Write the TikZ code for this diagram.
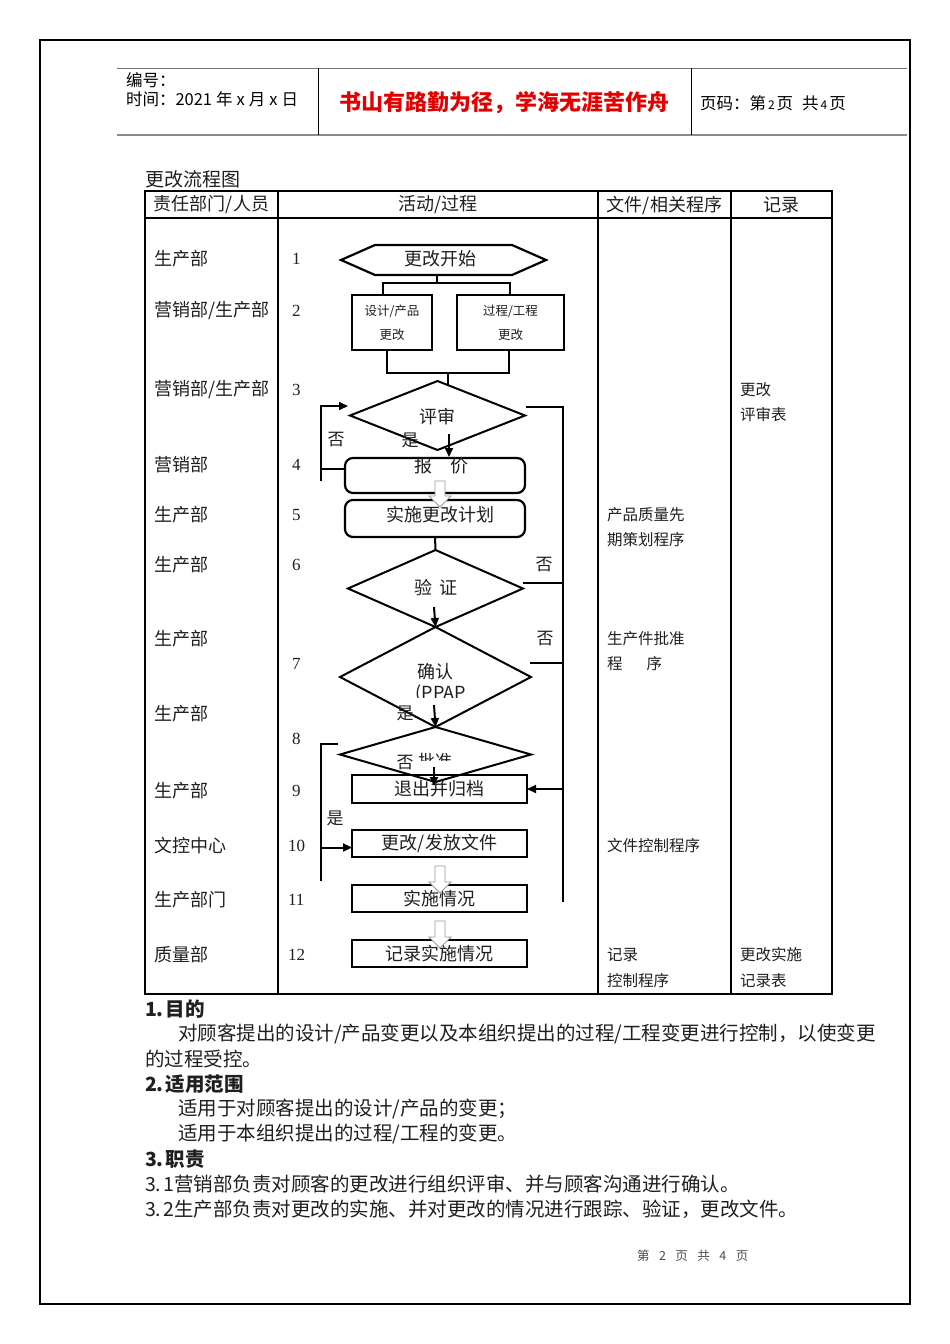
\documentclass[tikz,border=0pt]{standalone}
\usepackage{fontspec}
\setmainfont{Noto Sans CJK SC}
\newfontfamily\numfont{Liberation Serif}
\usetikzlibrary{arrows.meta,calc,shapes.geometric}
\definecolor{tred}{RGB}{228,0,0}
\newcommand\hollowarr[3]{\filldraw[fill=white,draw=black!40,line width=0.9pt] (#1-5,#2) -- (#1+5,#2) -- (#1+5,#3-11) -- (#1+11,#3-11) -- (#1,#3) -- (#1-11,#3-11) -- (#1-5,#3-11) -- cycle;}
\begin{document}
\begin{tikzpicture}[x=1pt,y=-1pt,
  every node/.style={inner sep=0pt,outer sep=0pt,text=black!88},
  tbl/.style={line width=2.6pt},
  bline/.style={line width=2.2pt},
  sbox/.style={draw,line width=2.2pt,inner sep=0pt},
  dia/.style={draw,diamond,line width=2pt,inner sep=0pt},
  conn/.style={line width=2pt},
  arr/.style={line width=2pt,-{Triangle[length=9pt,width=8pt]}},
  ctxt/.style={font=\fontsize{18}{20}\selectfont},
  ltxt/.style={font=\fontsize{18}{20}\selectfont,anchor=west},
  num/.style={font=\numfont\fontsize{17}{20}\selectfont,anchor=west},
  rtxt/.style={font=\fontsize{15.5}{18}\selectfont,anchor=west},
  smtxt/.style={font=\fontsize{12.5}{24}\selectfont,align=center},
  body/.style={font=\fontsize{19.5}{22}\selectfont,anchor=west},
  head/.style={font=\fontsize{19.5}{22}\selectfont\bfseries,anchor=west},
  yn/.style={font=\fontsize{17}{20}\selectfont}
]
\useasboundingbox (0,0) rectangle (950,1344);
\fill[white] (0,0) rectangle (950,1344);
% outer border
\draw[line width=2.5pt] (40,40) rectangle (910,1304);
% page header
\draw[line width=0.8pt,black!55] (117,68) -- (907,68);
\draw[line width=2pt,black!45] (117,135) -- (907,135);
\draw[line width=0.9pt] (318,68) -- (318,135);
\draw[line width=0.9pt] (691,68) -- (691,135);
\node[anchor=west,font=\fontsize{16.5}{18}\selectfont,text=black] (hno) at (126,80) {编号：};
\node[anchor=west,font=\fontsize{16.5}{18}\selectfont,text=black] (hdate) at (126,99) {时间：2021\hspace{4pt}年\hspace{4pt}x\hspace{4pt}月\hspace{4pt}x\hspace{4pt}日};
\node[font=\fontsize{22}{24}\selectfont\bfseries,text=tred] (htitle) at (504.5,103) {书山有路勤为径，学海无涯苦作舟};
\node[anchor=west,font=\fontsize{16.5}{18}\selectfont,text=black] (hpage) at (700,103) {页码：第\hspace{2pt}{\fontsize{12}{14}\selectfont 2}\hspace{2pt}页\hspace{9pt}共\hspace{2pt}{\fontsize{12}{14}\selectfont 4}\hspace{2pt}页};
% chart title
\node[anchor=west,font=\fontsize{19}{21}\selectfont] (ctitle) at (145,179) {更改流程图};
% table
\draw[tbl] (145,191) rectangle (832,994);
\draw[tbl] (145,218) -- (832,218);
\foreach \x in {278,598,731} \draw[tbl] (\x,191) -- (\x,994);
\node[ctxt] (th1) at (211.5,205) {责任部门/人员};
\node[ctxt] (th2) at (438,205) {活动/过程};
\node[ctxt] (th3) at (664.5,205) {文件/相关程序};
\node[ctxt] (th4) at (781.5,205) {记录};
% departments
\node[ltxt] (p1) at (154,259) {生产部};
\node[ltxt] (p2) at (154,311) {营销部/生产部};
\node[ltxt] (p3) at (154,390) {营销部/生产部};
\node[ltxt] (p4) at (154,465) {营销部};
\node[ltxt] (p5) at (154,515) {生产部};
\node[ltxt] (p6) at (154,565) {生产部};
\node[ltxt] (p7) at (154,639) {生产部};
\node[ltxt] (p8) at (154,714) {生产部};
\node[ltxt] (p9) at (154,791) {生产部};
\node[ltxt] (p10) at (154,846) {文控中心};
\node[ltxt] (p11) at (154,900) {生产部门};
\node[ltxt] (p12) at (154,955) {质量部};
% step numbers
\node[num] (s1) at (292,259) {1};
\node[num] (s2) at (292,311) {2};
\node[num] (s3) at (292,390) {3};
\node[num] (s4) at (292,465) {4};
\node[num] (s5) at (292,515) {5};
\node[num] (s6) at (292,565) {6};
\node[num] (s7) at (292,664) {7};
\node[num] (s8) at (292,739) {8};
\node[num] (s9) at (292,791) {9};
\node[num] (s10) at (288,846) {10};
\node[num] (s11) at (288,900) {11};
\node[num] (s12) at (288,955) {12};
% documents / records
\node[rtxt] (f5a) at (607,515) {产品质量先};
\node[rtxt] (f5b) at (607,540) {期策划程序};
\node[rtxt] (f7a) at (607,639) {生产件批准};
\node[rtxt] (f7b) at (607,664) {程\hspace{24pt}序};
\node[rtxt] (f10) at (607,846) {文件控制程序};
\node[rtxt] (f12a) at (607,955) {记录};
\node[rtxt] (f12b) at (607,981) {控制程序};
\node[rtxt] (r3a) at (740,390) {更改};
\node[rtxt] (r3b) at (740,415) {评审表};
\node[rtxt] (r12a) at (740,955) {更改实施};
\node[rtxt] (r12b) at (740,981) {记录表};
% ---------- flowchart ----------
% 1 start hexagon
\node[minimum width=205pt,minimum height=30pt,ctxt] (n1) at (443.5,260) {};
\draw[bline] (n1.west) -- ($(n1.north west)+(34,0)$) -- ($(n1.north east)+(-34,0)$) -- (n1.east) -- ($(n1.south east)+(-34,0)$) -- ($(n1.south west)+(34,0)$) -- cycle;
\node[ctxt] (n1t) at (440,259) {更改开始};
% 2 boxes
\node[sbox,smtxt,minimum width=80pt,minimum height=55pt] (b2a) at (392,322.5) {设计/产品\\更改};
\node[sbox,smtxt,minimum width=107pt,minimum height=55pt] (b2b) at (510.5,322.5) {过程/工程\\更改};
\coordinate (j1) at (437,283);
\draw[conn] (n1.south -| j1) -- (j1);
\draw[conn] ($(b2a.north)+(-9,0)$) |- (j1) -| ($(b2b.north)+(-0.5,0)$);
\coordinate (j2) at (448,373);
\draw[conn] ($(b2a.south)+(-5,0)$) |- (j2) -| ($(b2b.south)+(-1.5,0)$);
% 3 review diamond
\node[dia,minimum width=175pt,minimum height=69pt] (d3) at (437.5,415.5) {};
\node[ctxt] (d3t) at (437,417) {评审};
\draw[conn] (j2) -- ($(j2 |- d3.north)+(0,5)$);
% 4 quote box
\node[draw,line width=2.2pt,rounded corners=8pt,minimum width=180pt,minimum height=35pt] (b4) at (435,475.5) {};
\node[ctxt] (b4t) at (441,466) {报\hspace{18pt}价};
\draw[arr] (449,434) -- (449,457);
\node[yn] (yes3) at (410,440) {是};
\node[yn] (no3) at (336,440) {否};
\coordinate (L1) at (321,468.5);
\coordinate (L2) at (321,406);
\draw[conn] ($(b4.west)+(0,-7)$) -- (L1) -- ++(0,12);
\draw[arr] (L1) -- (L2) -- ++(27,0);
% 5 plan box
\node[draw,line width=2.2pt,rounded corners=8pt,minimum width=180pt,minimum height=37pt] (b5) at (435,518.5) {};
\node[ctxt] (b5t) at (440,515) {实施更改计划};
\hollowarr{440}{481}{507}
% 6 verify diamond
\node[dia,minimum width=175pt,minimum height=77pt] (d6) at (435.5,588.5) {};
\node[ctxt] (d6t) at (436,588) {验\hspace{8pt}证};
\draw[conn] (b5.south) -- (d6.north);
% 7 confirm diamond
\node[dia,minimum width=191pt,minimum height=100pt] (d7) at (435.5,677) {};
\node[ctxt] (d7t) at (435,672) {确认};
\begin{scope}
\clip (380,680) rectangle (500,697);
\node[ctxt] (d7p) at (441,693.5) {(PPAP};
\end{scope}
\draw[arr] (434,607) -- (d6.south);
% 8 approve diamond
\node[dia,minimum width=191pt,minimum height=55pt] (d8) at (435.5,754.5) {};
\begin{scope}
\clip (400,745) rectangle (470,760);
\node[font=\fontsize{17}{20}\selectfont] (d8t) at (435,761) {批准};
\end{scope}
\draw[arr] (434,705) -- (d7.south);
\node[yn] (yes7) at (405,713) {是};
\node[yn] (no8) at (405,763) {否};
% 9..12 boxes
\node[sbox,ctxt,minimum width=175pt,minimum height=28pt] (b9) at (439.5,789) {退出并归档};
\node[sbox,ctxt,minimum width=175pt,minimum height=27pt] (b10) at (439.5,843.5) {更改/发放文件};
\node[sbox,ctxt,minimum width=175pt,minimum height=27pt] (b11) at (439.5,898.5) {实施情况};
\node[sbox,ctxt,minimum width=175pt,minimum height=27pt] (b12) at (439.5,953.5) {记录实施情况};
\draw[arr] (434,767) -- (434,786);
\hollowarr{440}{866}{893}
\hollowarr{440}{921}{948}
% left loop from approve
\coordinate (L3) at (321,744);
\coordinate (L4) at (321,881);
\draw[conn] (338,744) -- (L3) -- (L4);
\draw[arr] (L3 |- 0,847.5) -- ($(b10.west)+(0,4)$);
\node[yn] (yes8) at (335,818) {是};
% right loop
\coordinate (R1) at (563,407);
\coordinate (R2) at (563,902);
\draw[conn] (526,407) -- (R1) -- (R2);
\draw[conn] ($(d6.east)+(0,-6)$) -- (R1 |- 0,582.5);
\draw[conn] (530,663) -- (R1 |- 0,663);
\draw[arr] (R1 |- b9.east) -- (b9.east);
\node[yn] (no6) at (544,565) {否};
\node[yn] (no7) at (545,639) {否};
% ---------- body text ----------
\node[head] (t1) at (145,1009) {1.\hspace{2pt}目的};
\node[body] (t2) at (178,1034) {对顾客提出的设计/产品变更以及本组织提出的过程/工程变更进行控制，以使变更};
\node[body] (t3) at (145,1059) {的过程受控。};
\node[head] (t4) at (145,1084) {2.\hspace{2pt}适用范围};
\node[body] (t5) at (178,1109) {适用于对顾客提出的设计/产品的变更；};
\node[body] (t6) at (178,1134) {适用于本组织提出的过程/工程的变更。};
\node[head] (t7) at (145,1159) {3.\hspace{2pt}职责};
\node[body] (t8) at (145,1184) {3.\hspace{2pt}1营销部负责对顾客的更改进行组织评审、并与顾客沟通进行确认。};
\node[body] (t9) at (145,1209) {3.\hspace{2pt}2生产部负责对更改的实施、并对更改的情况进行跟踪、验证，更改文件。};
% footer
\node[anchor=west,font=\fontsize{12.5}{14}\selectfont,text=black!70] (foot) at (637,1256) {第\hspace{9.5pt}2\hspace{9.5pt}页\hspace{9.5pt}共\hspace{9.5pt}4\hspace{9.5pt}页};
\end{tikzpicture}
\end{document}
